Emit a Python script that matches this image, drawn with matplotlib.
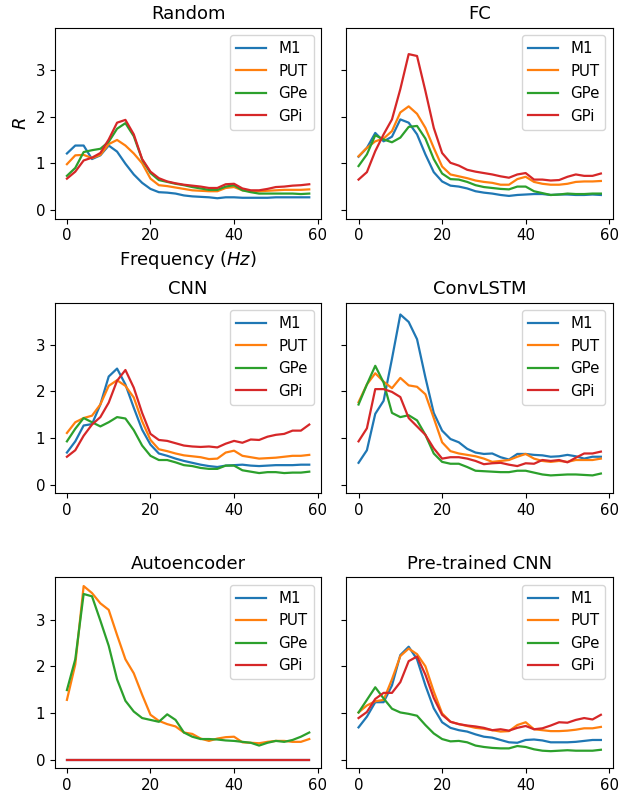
import matplotlib
matplotlib.use("Agg")
import matplotlib.pyplot as plt
import numpy as np

freqs = np.arange(0, 60, 2)
regions = ['M1', 'PUT', 'GPe', 'GPi']
titles = ['Random', 'FC', 'CNN', 'ConvLSTM', 'Autoencoder', 'Pre-trained CNN']

random_m1 = [1.21, 1.38, 1.38, 1.09, 1.17, 1.38, 1.25, 0.99, 0.76, 0.58, 0.45, 0.38, 0.37, 0.35, 0.31,
             0.29, 0.28, 0.27, 0.25, 0.27, 0.27, 0.26, 0.26, 0.26, 0.26, 0.27, 0.27, 0.27, 0.27, 0.27]
random_put = [0.98, 1.17, 1.18, 1.11, 1.18, 1.41, 1.50, 1.38, 1.21, 1.00, 0.67, 0.53, 0.51, 0.48, 0.45,
              0.42, 0.41, 0.40, 0.40, 0.47, 0.49, 0.42, 0.40, 0.40, 0.41, 0.42, 0.43, 0.43, 0.43, 0.44]
random_gpe = [0.73, 0.90, 1.24, 1.28, 1.31, 1.46, 1.74, 1.86, 1.58, 1.08, 0.79, 0.64, 0.60, 0.56, 0.53,
              0.49, 0.46, 0.43, 0.43, 0.50, 0.53, 0.42, 0.38, 0.35, 0.35, 0.35, 0.35, 0.35, 0.34, 0.35]
random_gpi = [0.67, 0.82, 1.06, 1.12, 1.22, 1.51, 1.87, 1.93, 1.62, 1.09, 0.82, 0.68, 0.61, 0.57, 0.54,
              0.52, 0.50, 0.47, 0.47, 0.55, 0.56, 0.46, 0.42, 0.42, 0.45, 0.49, 0.50, 0.52, 0.53, 0.55]

fc_m1 = [1.14, 1.33, 1.65, 1.47, 1.57, 1.94, 1.87, 1.62, 1.19, 0.81, 0.61, 0.52, 0.50, 0.46, 0.40,
         0.37, 0.35, 0.32, 0.30, 0.32, 0.33, 0.34, 0.34, 0.32, 0.33, 0.33, 0.32, 0.32, 0.33, 0.32]
fc_put = [1.15, 1.33, 1.47, 1.53, 1.69, 2.09, 2.22, 2.06, 1.76, 1.33, 0.93, 0.76, 0.72, 0.68, 0.63,
          0.60, 0.58, 0.54, 0.54, 0.66, 0.71, 0.60, 0.56, 0.54, 0.54, 0.56, 0.60, 0.61, 0.61, 0.62]
fc_gpe = [0.94, 1.19, 1.60, 1.51, 1.45, 1.55, 1.78, 1.80, 1.53, 1.09, 0.78, 0.66, 0.65, 0.60, 0.53,
          0.49, 0.47, 0.45, 0.44, 0.50, 0.50, 0.40, 0.36, 0.32, 0.33, 0.35, 0.34, 0.34, 0.35, 0.35]
fc_gpi = [0.65, 0.81, 1.26, 1.62, 1.94, 2.59, 3.34, 3.30, 2.55, 1.76, 1.22, 1.01, 0.95, 0.86, 0.82,
          0.79, 0.76, 0.72, 0.69, 0.76, 0.79, 0.65, 0.65, 0.63, 0.64, 0.71, 0.76, 0.73, 0.73, 0.78]

cnn_m1 = [0.69, 0.93, 1.27, 1.30, 1.72, 2.32, 2.49, 2.15, 1.65, 1.18, 0.86, 0.67, 0.62, 0.56, 0.51,
          0.47, 0.43, 0.40, 0.38, 0.41, 0.42, 0.43, 0.41, 0.40, 0.41, 0.42, 0.42, 0.42, 0.43, 0.43]
cnn_put = [1.11, 1.34, 1.43, 1.48, 1.72, 2.12, 2.24, 2.12, 1.87, 1.36, 0.96, 0.76, 0.72, 0.67, 0.63,
           0.61, 0.59, 0.55, 0.56, 0.69, 0.73, 0.62, 0.59, 0.56, 0.57, 0.58, 0.60, 0.62, 0.62, 0.64]
cnn_gpe = [0.93, 1.20, 1.43, 1.34, 1.25, 1.34, 1.45, 1.42, 1.17, 0.84, 0.62, 0.53, 0.53, 0.48, 0.42,
           0.40, 0.36, 0.34, 0.34, 0.41, 0.41, 0.31, 0.28, 0.25, 0.27, 0.27, 0.25, 0.26, 0.26, 0.28]
cnn_gpi = [0.60, 0.74, 1.05, 1.29, 1.45, 1.76, 2.23, 2.46, 2.08, 1.54, 1.09, 0.96, 0.94, 0.89, 0.84,
           0.82, 0.81, 0.82, 0.80, 0.88, 0.94, 0.90, 0.97, 0.96, 1.03, 1.07, 1.09, 1.16, 1.16, 1.29]

lstm_m1 = [0.47, 0.74, 1.52, 1.80, 2.70, 3.65, 3.49, 3.12, 2.30, 1.54, 1.16, 0.98, 0.91, 0.77, 0.69,
           0.66, 0.67, 0.59, 0.54, 0.66, 0.66, 0.64, 0.63, 0.60, 0.61, 0.64, 0.61, 0.56, 0.60, 0.60]
lstm_put = [1.77, 2.15, 2.39, 2.21, 2.07, 2.29, 2.13, 2.10, 1.94, 1.43, 0.91, 0.72, 0.67, 0.64, 0.61,
            0.56, 0.49, 0.51, 0.53, 0.60, 0.66, 0.56, 0.51, 0.49, 0.51, 0.49, 0.53, 0.53, 0.53, 0.56]
lstm_gpe = [1.72, 2.15, 2.55, 2.19, 1.54, 1.45, 1.49, 1.38, 1.07, 0.67, 0.49, 0.45, 0.45, 0.38, 0.30,
            0.29, 0.28, 0.27, 0.27, 0.30, 0.30, 0.26, 0.22, 0.20, 0.21, 0.22, 0.22, 0.21, 0.20, 0.24]
lstm_gpi = [0.93, 1.21, 2.05, 2.05, 1.99, 1.88, 1.43, 1.25, 1.07, 0.78, 0.56, 0.59, 0.59, 0.56, 0.51,
            0.44, 0.46, 0.47, 0.43, 0.40, 0.46, 0.45, 0.53, 0.51, 0.53, 0.48, 0.58, 0.67, 0.67, 0.71]

ae_m1 = [0.0] * 30
ae_put = [1.28, 2.04, 3.72, 3.57, 3.35, 3.21, 2.67, 2.15, 1.85, 1.39, 0.96, 0.83, 0.76, 0.71, 0.58,
          0.55, 0.45, 0.40, 0.45, 0.48, 0.49, 0.37, 0.36, 0.35, 0.38, 0.40, 0.40, 0.38, 0.38, 0.44]
ae_gpe = [1.49, 2.15, 3.55, 3.50, 2.98, 2.44, 1.72, 1.26, 1.03, 0.89, 0.85, 0.81, 0.97, 0.85, 0.58,
          0.49, 0.44, 0.44, 0.43, 0.41, 0.40, 0.38, 0.36, 0.30, 0.36, 0.40, 0.38, 0.42, 0.49, 0.58]
ae_gpi = [0.0] * 30

pre_m1 = [0.69, 0.92, 1.23, 1.23, 1.59, 2.24, 2.42, 2.15, 1.59, 1.10, 0.80, 0.68, 0.63, 0.60, 0.54,
          0.49, 0.47, 0.42, 0.37, 0.36, 0.42, 0.43, 0.41, 0.37, 0.37, 0.37, 0.38, 0.40, 0.42, 0.42]
pre_put = [1.01, 1.16, 1.25, 1.28, 1.72, 2.22, 2.38, 2.26, 2.00, 1.46, 0.99, 0.81, 0.76, 0.72, 0.68,
           0.66, 0.63, 0.60, 0.61, 0.74, 0.80, 0.65, 0.63, 0.61, 0.61, 0.62, 0.64, 0.67, 0.67, 0.70]
pre_gpe = [1.01, 1.28, 1.55, 1.31, 1.09, 1.01, 0.98, 0.94, 0.74, 0.56, 0.44, 0.39, 0.40, 0.37, 0.30,
           0.27, 0.25, 0.24, 0.24, 0.29, 0.27, 0.22, 0.19, 0.18, 0.19, 0.20, 0.19, 0.19, 0.19, 0.21]
pre_gpi = [0.89, 1.02, 1.30, 1.43, 1.43, 1.66, 2.11, 2.21, 1.82, 1.32, 0.96, 0.81, 0.76, 0.73, 0.71,
           0.68, 0.63, 0.65, 0.62, 0.68, 0.72, 0.65, 0.67, 0.73, 0.80, 0.79, 0.85, 0.89, 0.86, 0.96]

models = [
    [random_m1, random_put, random_gpe, random_gpi],
    [fc_m1, fc_put, fc_gpe, fc_gpi],
    [cnn_m1, cnn_put, cnn_gpe, cnn_gpi],
    [lstm_m1, lstm_put, lstm_gpe, lstm_gpi],
    [ae_m1, ae_put, ae_gpe, ae_gpi],
    [pre_m1, pre_put, pre_gpe, pre_gpi],
]

# reference text is a touch bigger than the defaults
plt.rcParams['font.size'] = 10.8
plt.rcParams['lines.linewidth'] = 1.6

fig, axes = plt.subplots(3, 2, figsize=(6.3, 7.92), dpi=100, sharey=True)
fig.subplots_adjust(left=0.087, right=0.973, top=0.965, bottom=0.030,
                    wspace=0.094, hspace=0.44)

for ax, title, curves in zip(axes.flat, titles, models):
    for name, vals in zip(regions, curves):
        ax.plot(freqs, vals, label=name)
    ax.set_title(title, fontsize=13)
    ax.set_xticks([0, 20, 40, 60])
    ax.set_yticks([0, 1, 2, 3])
    ax.legend(loc='upper right')

axes[0, 0].set_ylabel('$R$', fontsize=13)
axes[0, 0].set_xlabel('Frequency ($Hz$)', fontsize=13)

fig.savefig('out.png', dpi=100)
